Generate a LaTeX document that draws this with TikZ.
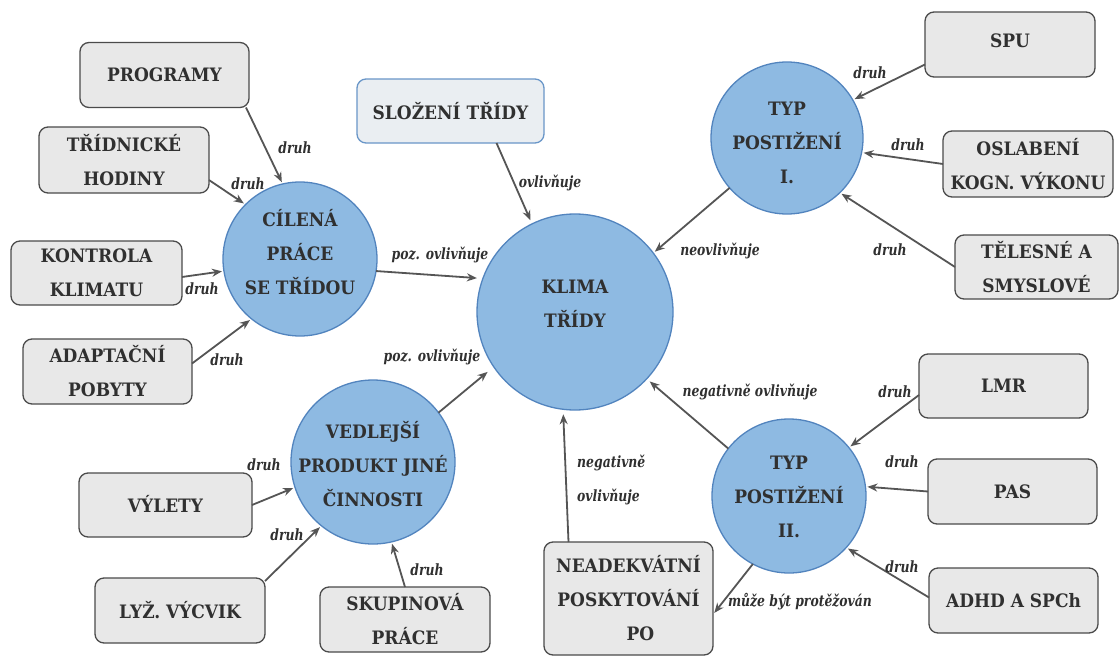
\documentclass[tikz,border=0pt]{standalone}
\usepackage{fontspec}
\setmainfont{DejaVu Serif}[FakeStretch=0.92]
\newfontfamily\labfont{DejaVu Serif}[FakeStretch=0.8]
\usetikzlibrary{arrows.meta}
\definecolor{cfill}{RGB}{142,186,226}
\definecolor{cdraw}{RGB}{82,132,190}
\definecolor{bfill}{RGB}{232,232,232}
\definecolor{bdraw}{RGB}{75,75,75}
\definecolor{tcol}{RGB}{48,48,48}
\definecolor{acol}{RGB}{85,85,85}
\definecolor{sdraw}{RGB}{105,150,200}
\definecolor{sfill}{RGB}{234,238,242}
\begin{document}
\begin{tikzpicture}[x=1pt,y=-1pt,
 box/.style={draw=bdraw,fill=bfill,line width=1.3pt,rounded corners=9pt,inner sep=0pt,outer sep=0pt,
   minimum width=169pt,minimum height=65pt,align=center,text=tcol,font=\fontsize{18.5}{34}\selectfont\bfseries},
 circ/.style={circle,draw=cdraw,fill=cfill,line width=1.3pt,inner sep=0pt,outer sep=0pt},
 ctext/.style={inner sep=0pt,align=center,text=tcol,font=\fontsize{18.5}{34}\selectfont\bfseries},
 lab/.style={inner sep=0pt,text=tcol,font=\labfont\fontsize{15.5}{34}\selectfont\bfseries\itshape},
 arr/.style={draw=acol,line width=1.8pt,-{Stealth[length=10pt,width=8pt]},shorten >=2pt}
]
\fill[white] (0,0) rectangle (1119,656);
\useasboundingbox (0,0) rectangle (1119,656);

% circles
\node[circ,minimum size=154pt] (cil) at (300,259) {};
\node[ctext] (cilt) at (300,252) {CÍLENÁ\\PRÁCE\\SE TŘÍDOU};
\node[circ,minimum size=196pt] (kl) at (575,312) {};
\node[ctext] (klt) at (575,304) {KLIMA\\TŘÍDY};
\node[circ,minimum size=152pt] (typa) at (787,138) {};
\node[ctext] (typat) at (787,143) {TYP\\POSTIŽENÍ\\I.};
\node[circ,minimum size=154pt] (typb) at (789,496) {};
\node[ctext] (typbt) at (789,497) {TYP\\POSTIŽENÍ\\II.};
\node[circ,minimum size=164pt] (ved) at (373,462) {};
\node[ctext] (vedt) at (373,464) {VEDLEJŠÍ\\PRODUKT JINÉ\\ČINNOSTI};

% boxes
\node[box] (prog) at (164.5,75) {PROGRAMY};
\node[box,minimum width=170pt,minimum height=66pt] (trid) at (124,160) {TŘÍDNICKÉ\\HODINY};
\node[box,minimum width=171pt,minimum height=64pt] (kont) at (96.5,273) {KONTROLA\\KLIMATU};
\node[box] (adap) at (107.5,371.5) {ADAPTAČNÍ\\POBYTY};
\node[box,draw=sdraw,fill=sfill,minimum width=187pt,minimum height=64pt] (slo) at (450.5,111) {SLOŽENÍ TŘÍDY};
\node[box,minimum width=170pt] (spu) at (1010,44.5) {\raisebox{8pt}{SPU}};
\node[box,minimum width=170pt,minimum height=66pt] (osl) at (1028,164) {OSLABENÍ\\KOGN. VÝKONU};
\node[box,minimum width=163pt,minimum height=64pt] (tel) at (1036.5,267) {TĚLESNÉ A\\SMYSLOVÉ};
\node[box,minimum height=64pt] (lmr) at (1003.5,386) {LMR};
\node[box] (pas) at (1012.5,491.5) {PAS};
\node[box] (adhd) at (1013.5,600.5) {ADHD A SPCh};
\node[box,minimum height=113pt] (nead) at (628.5,598.5) {NEADEKVÁTNÍ\\POSKYTOVÁNÍ\\\hspace*{24pt}PO};
\node[box,minimum width=170pt] (skup) at (405,619.5) {SKUPINOVÁ\\PRÁCE};
\node[box,minimum width=170pt] (lyz) at (180,610.5) {LYŽ. VÝCVIK};
\node[box,minimum width=173pt,minimum height=64pt] (vyl) at (165.5,505) {\raisebox{3pt}{VÝLETY}};

% arrows into CÍLENÁ
\draw[arr] ([xshift=-3pt]prog.south east) -- (cil.103);
\draw[arr] ([yshift=-20pt]trid.east) -- (cil.135);
\draw[arr] ([yshift=-4pt]kont.east) -- (cil.189);
\draw[arr] ([yshift=8pt]adap.east) -- (cil.231);
% arrows into KLIMA
\draw[arr,shorten >=6pt] (cil.-9) -- (kl.160);
\draw[arr,shorten >=4pt] ([xshift=46pt]slo.south) -- (kl.116);
\draw[arr] (typa.221) -- (kl.37);
\draw[arr,shorten >=8pt] (ved.37) -- (kl.214);
\draw[arr,shorten >=5pt] ([xshift=-60pt]nead.north) -- (kl.263);
\draw[arr,shorten >=4pt] (typb.142) -- (kl.-43);
\draw[arr] (typb.242) -- ([yshift=-16pt]nead.east);
% arrows into TYP I
\draw[arr] ([yshift=-20pt]spu.west) -- (typa.30);
\draw[arr] (osl.west) -- (typa.-11);
\draw[arr] (tel.west) -- (typa.-46);
% arrows into TYP II
\draw[arr] ([yshift=-9pt]lmr.west) -- (typb.39);
\draw[arr] (pas.west) -- (typb.7);
\draw[arr] ([yshift=3pt]adhd.west) -- (typb.-42);
% arrows into VEDLEJŠÍ
\draw[arr] (vyl.east) -- (ved.198);
\draw[arr] ([yshift=-3pt]lyz.north east) -- (ved.231);
\draw[arr] (skup.north) -- (ved.283);

% labels
\node[lab] (l1) at (295,148) {druh};
\node[lab] (l2) at (248,184) {druh};
\node[lab] (l3) at (202,289) {druh};
\node[lab] (l4) at (227,360) {druh};
\node[lab] (l5) at (440,255) {poz. ovlivňuje};
\node[lab] (l6) at (550,183) {ovlivňuje};
\node[lab] (l7) at (720,251) {neovlivňuje};
\node[lab] (l8) at (870,73) {druh};
\node[lab] (l9) at (908,145) {druh};
\node[lab] (l10) at (890,250) {druh};
\node[lab] (l11) at (432,357) {poz. ovlivňuje};
\node[lab] (l12) at (264,465) {druh};
\node[lab] (l13) at (287,535) {druh};
\node[lab] (l14) at (427,570) {druh};
\node[lab,align=left,anchor=west] (l15) at (577,480) {negativně\\ovlivňuje};
\node[lab] (l16) at (750,392) {negativně ovlivňuje};
\node[lab] (l17) at (800,602) {může být protěžován};
\node[lab] (l18) at (895,392) {druh};
\node[lab] (l19) at (902,462) {druh};
\node[lab] (l20) at (902,567) {druh};
\end{tikzpicture}
\end{document}
